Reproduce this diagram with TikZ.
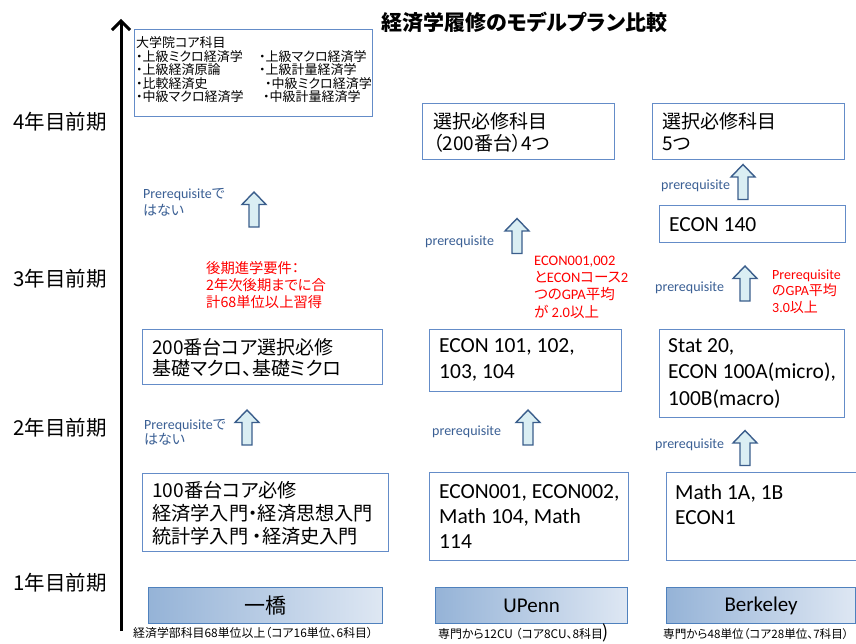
\documentclass[tikz,border=0pt]{standalone}
\usepackage{fontspec}
\setmainfont{Carlito}
\newfontfamily\jp[RawFeature=+palt]{Noto Sans CJK JP}
\usetikzlibrary{arrows.meta}
\definecolor{boxline}{RGB}{100,140,200}
\definecolor{arrline}{RGB}{59,94,140}
\definecolor{arrfill}{RGB}{218,238,243}
\definecolor{pretext}{RGB}{58,95,148}
\definecolor{barleft}{RGB}{149,179,215}
\definecolor{barright}{RGB}{222,231,243}
\definecolor{barline}{RGB}{79,129,189}
\tikzset{
  cbox/.style={draw=boxline, line width=1pt, inner sep=0pt, anchor=north west},
  txt/.style={inner sep=0pt, anchor=west, align=left},
  jpbig/.style={txt, font={\jp\fontsize{19}{22.5}\selectfont}},
  enbig/.style={txt, font={\fontsize{21.5}{25.5}\selectfont}},
  prelabel/.style={txt, text=pretext, font={\fontsize{14}{17}\selectfont}},
  rednote/.style={txt, text=red, font={\fontsize{14}{16.7}\selectfont}},
  yearlabel/.style={txt, font={\jp\fontsize{20.5}{24}\selectfont}},
  schoolbar/.style={draw=barline, line width=1.2pt, left color=barleft, right color=barright, inner sep=0pt, anchor=north west, minimum height=36pt, font={\fontsize{21}{21}\selectfont}},
  foot/.style={txt, font={\jp\fontsize{11.9}{13}\selectfont}},
  blockarr/.style={draw=arrline, fill=arrfill, line width=1.4pt, line join=miter},
  uparr/.pic={\path[blockarr] (-5,17.5) -- (5,17.5) -- (5,-5) -- (12,-5) -- (0,-17.5) -- (-12,-5) -- (-5,-5) -- cycle;},
}
\begin{document}
\begin{tikzpicture}[x=1pt,y=-1pt]
\useasboundingbox (0,0) rectangle (856,644);
\clip (0,0) rectangle (856,644);

% title
\node[font={\jp\bfseries\fontsize{21}{21}\selectfont}, inner sep=0pt] (title) at (524.5,22) {経済学履修のモデルプラン比較};

% time axis
\coordinate (axbot) at (121,631);
\coordinate (axtop) at (121,19);
\draw[line width=3pt, -{Straight Barb[length=9pt,width=18pt]}] (axbot) -- (axtop);
\node[yearlabel] (y4) at (13,122) {4年目前期};
\node[yearlabel] (y3) at (13,279) {3年目前期};
\node[yearlabel] (y2) at (13,428) {2年目前期};
\node[yearlabel] (y1) at (13,583) {1年目前期};

% ---------- Hitotsubashi ----------
\node[cbox, minimum width=238pt, minimum height=87pt] (grad) at (134,29) {};
\node[txt, font={\jp\fontsize{13}{13.5}\selectfont}] (gradt) at (136,70) {大学院コア科目\\
\makebox[123pt][l]{・上級ミクロ経済学}・上級マクロ経済学\\
\makebox[123pt][l]{・上級経済原論}・上級計量経済学\\
\makebox[129pt][l]{・比較経済史}・中級ミクロ経済学\\
\makebox[127pt][l]{・中級マクロ経済学}・中級計量経済学};

\node[prelabel] (hp1) at (143,202.5) {Prerequisite{\jp で}\\{\jp はない}};
\pic (ha1) at (254,209.5) {uparr};
\node[rednote, font={\jp\fontsize{14.3}{16.8}\selectfont}] (hnote) at (206,285) {後期進学要件：\\2年次後期までに合\\計68単位以上習得};

\node[cbox, minimum width=240pt, minimum height=55pt] (h200) at (142,329) {};
\node[jpbig, font={\jp\fontsize{19}{21.5}\selectfont}] (h200t) at (152,357.5) {200番台コア選択必修\\基礎マクロ、基礎ミクロ};

\node[prelabel, font={\fontsize{14}{15.5}\selectfont}] (hp2) at (144,432.5) {Prerequisite{\jp で}\\{\jp はない}};
\pic (ha2) at (247,427.5) {uparr};

\node[cbox, minimum width=246pt, minimum height=78pt] (h100) at (142,473) {};
\node[jpbig, font={\jp\fontsize{19.2}{23}\selectfont}] (h100t) at (152,513) {100番台コア必修\\経済学入門・経済思想入門\\統計学入門 ・経済史入門};

\node[schoolbar, minimum width=234pt] (hbar) at (148,587) {\jp 一橋};
\node[foot] (hfoot) at (133,633) {経済学部科目68単位以上（コア16単位、6科目）};

% ---------- UPenn ----------
\node[cbox, minimum width=192pt, minimum height=56pt] (u4) at (422,103) {};
\node[jpbig, font={\jp\fontsize{19}{22}\selectfont}] (u4t) at (433,132) {選択必修科目\\（200番台）4つ};

\node[prelabel] (up1) at (425,242) {prerequisite};
\pic (ua1) at (517,236) {uparr};
\node[rednote, font={\fontsize{14.5}{17.3}\selectfont}] (unote) at (534,287) {ECON001,002\\{\jp と}ECON{\jp コース}2\\{\jp つの}GPA{\jp 平均}\\{\jp が} 2.0{\jp 以上}};

\node[cbox, minimum width=192pt, minimum height=62pt] (u101) at (429,329) {};
\node[enbig, font={\fontsize{21.5}{26}\selectfont}] (u101t) at (439,360) {ECON 101, 102,\\103, 104};

\node[prelabel] (up2) at (432,432) {prerequisite};
\pic (ua2) at (528,427.5) {uparr};

\node[cbox, minimum width=199pt, minimum height=88pt] (u001) at (429,472) {};
\node[enbig, font={\fontsize{21.5}{25}\selectfont}] (u001t) at (439,517) {ECON001, ECON002,\\Math 104, Math\\114};

\node[schoolbar, minimum width=192pt] (ubar) at (435,587) {UPenn};
\node[foot] (ufoot) at (438,633) {専門から12CU （コア8CU、8科目{\fontsize{18}{18}\selectfont )}};

% ---------- Berkeley ----------
\node[cbox, minimum width=192pt, minimum height=56pt] (b4) at (652,103) {};
\node[jpbig, font={\jp\fontsize{19}{22}\selectfont}] (b4t) at (662,132) {選択必修科目\\5つ};

\node[prelabel] (bp1) at (661,186) {prerequisite};
\pic (ba1) at (743,182) {uparr};

\node[cbox, minimum width=186pt, minimum height=37pt] (b140) at (659,205) {};
\node[enbig] (b140t) at (669,225) {ECON 140};

\node[prelabel] (bp2) at (655,288) {prerequisite};
\pic (ba2) at (745,283.5) {uparr};
\node[rednote] (bnote) at (772,291.5) {Prerequisite\\{\jp の}GPA{\jp 平均}\\3.0{\jp 以上}};

\node[cbox, minimum width=185pt, minimum height=88pt] (bstat) at (659,329) {};
\node[enbig, font={\fontsize{21.5}{26.5}\selectfont}] (bstatt) at (668,373.5) {Stat 20,\\ECON 100A(micro),\\100B(macro)};

\node[prelabel] (bp3) at (655,445) {prerequisite};
\pic (ba3) at (745,448) {uparr};

\node[cbox, minimum width=194pt, minimum height=88pt] (bmath) at (666,472) {};
\node[enbig, font={\fontsize{21.5}{25}\selectfont}] (bmatht) at (675,504.5) {Math 1A, 1B\\ECON1};

\node[schoolbar, minimum width=189pt] (bbar) at (666,587) {Berkeley};
\node[foot, font={\jp\fontsize{11.6}{13}\selectfont}] (bfoot) at (663,634) {専門から48単位（コア28単位、7科目）};
\end{tikzpicture}
\end{document}
